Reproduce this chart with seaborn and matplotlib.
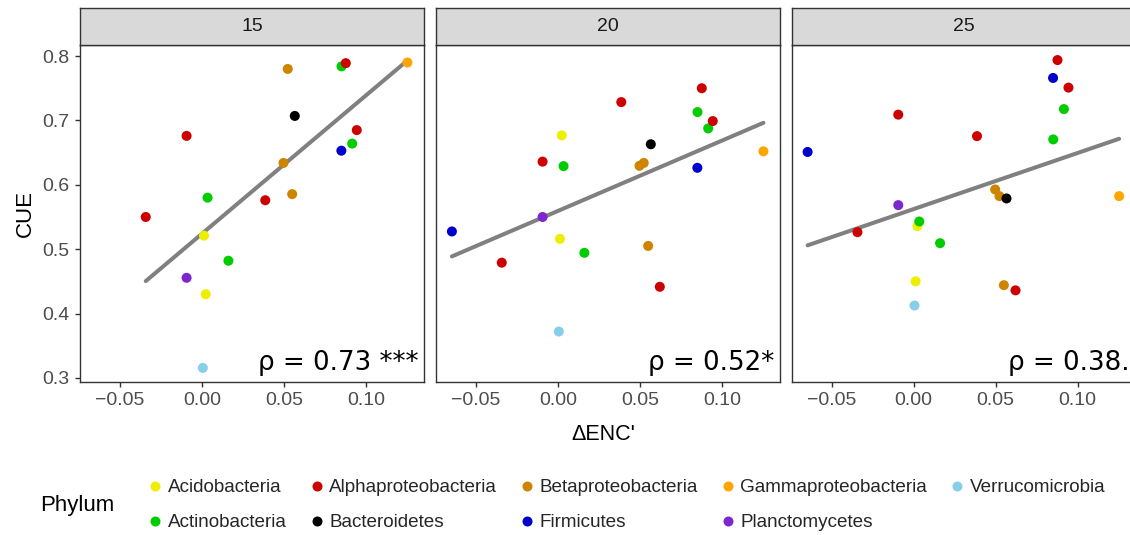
import numpy as np
import pandas as pd
import matplotlib
matplotlib.use("Agg")
import matplotlib.pyplot as plt
from matplotlib.lines import Line2D
import seaborn as sns

# ---------------- data ----------------
temps = ["15", "20", "25"]
phylum = ["Firmicutes", "Alphaproteobacteria", "Alphaproteobacteria", "Planctomycetes",
          "Verrucomicrobia", "Acidobacteria", "Acidobacteria", "Actinobacteria",
          "Actinobacteria", "Alphaproteobacteria", "Betaproteobacteria", "Betaproteobacteria",
          "Betaproteobacteria", "Bacteroidetes", "Alphaproteobacteria", "Firmicutes",
          "Actinobacteria", "Alphaproteobacteria", "Actinobacteria", "Alphaproteobacteria",
          "Gammaproteobacteria"]
d_enc = [-0.0647, -0.0343, -0.0094, -0.0094, 0.0005, 0.0012, 0.0023, 0.0034, 0.0161,
         0.0386, 0.0497, 0.0523, 0.0550, 0.0566, 0.0621, 0.0850, 0.0851, 0.0877,
         0.0916, 0.0944, 0.1253]
cue_15 = [np.nan, 0.550, 0.676, 0.4555, 0.3155, 0.521, 0.430, 0.580, 0.482, 0.576,
          0.634, 0.780, 0.5855, 0.707, np.nan, 0.653, 0.784, 0.789, 0.664, 0.685, 0.790]
cue_20 = [0.5275, 0.479, 0.636, 0.550, 0.372, 0.516, 0.6767, 0.629, 0.4943, 0.7285,
          0.6295, 0.634, 0.505, 0.663, 0.4415, 0.6264, 0.713, 0.750, 0.6876, 0.699, 0.652]
cue_25 = [0.651, 0.5264, 0.709, 0.5684, 0.4124, 0.450, 0.5358, 0.543, 0.5093, 0.6756,
          0.5927, 0.5824, 0.444, 0.5788, 0.436, 0.766, 0.6705, 0.7938, 0.7176, 0.751, 0.5824]
rho_labels = ["ρ = 0.73 ***", "ρ = 0.52*", "ρ = 0.38."]

phyla_order = ["Acidobacteria", "Actinobacteria", "Alphaproteobacteria", "Bacteroidetes",
               "Betaproteobacteria", "Firmicutes", "Gammaproteobacteria", "Planctomycetes",
               "Verrucomicrobia"]
phyla_colors = ["#EEEE00", "#00CD00", "#CD0000", "#000000", "#CD8500", "#0000CD",
                "#FFA500", "#7D26CD", "#87CEEB"]
x_ticks = [-0.05, 0.00, 0.05, 0.10]
x_ticklabels = ["\u22120.05", "0.00", "0.05", "0.10"]
y_ticks = [0.3, 0.4, 0.5, 0.6, 0.7, 0.8]

frames = []
for t, cue in zip(temps, [cue_15, cue_20, cue_25]):
    frames.append(pd.DataFrame({"temp": t, "dENC": d_enc, "CUE": cue, "Phylum": phylum}))
df = pd.concat(frames, ignore_index=True).dropna()
palette = dict(zip(phyla_order, phyla_colors))

# ---------------- figure ----------------
sns.set_style("white")
plt.rcParams["font.family"] = ["Liberation Sans", "DejaVu Sans"]

W, H = 1130, 535
fig = plt.figure(figsize=(W / 100, H / 100), dpi=100)
fig.patch.set_facecolor("white")

lefts = [80, 436, 791.7]
pw = 344
p_top, p_bot = 45, 382
s_top = 8
edge = "#333333"

for i, t in enumerate(temps):
    l = lefts[i]
    ax = fig.add_axes([l / W, (H - p_bot) / H, pw / W, (p_bot - p_top) / H])
    sub = df[df["temp"] == t]
    sns.regplot(data=sub, x="dENC", y="CUE", ax=ax, scatter=False, ci=None,
                color="#808080", line_kws={"linewidth": 2.9, "zorder": 2})
    sns.scatterplot(data=sub, x="dENC", y="CUE", hue="Phylum", palette=palette,
                    hue_order=phyla_order, ax=ax, s=52, linewidth=0, legend=False,
                    zorder=3)
    ax.set_xlim(-0.0744, 0.1354)
    ax.set_ylim(0.2936, 0.8172)
    ax.set_xticks(x_ticks)
    ax.set_xticklabels(x_ticklabels)
    ax.set_yticks(y_ticks)
    ax.set_xlabel("")
    ax.set_ylabel("")
    ax.tick_params(axis="both", which="both", length=3.3, width=1.0, color=edge,
                   labelcolor="#4D4D4D", labelsize=14, pad=4, direction="out",
                   bottom=True, left=(i == 0), labelleft=(i == 0))
    for sp in ax.spines.values():
        sp.set_color(edge)
        sp.set_linewidth(1.0)
        sp.set_visible(True)
    ax.grid(False)
    ax.text(1 - 6 / pw, 12 / (p_bot - p_top), rho_labels[i], transform=ax.transAxes,
            ha="right", va="baseline", fontsize=18.8, family="DejaVu Sans", color="black",
            zorder=5)

    sax = fig.add_axes([l / W, (H - p_top) / H, pw / W, (p_top - s_top) / H])
    sax.set_facecolor("#D9D9D9")
    sax.set_xticks([])
    sax.set_yticks([])
    for sp in sax.spines.values():
        sp.set_color(edge)
        sp.set_linewidth(1.0)
    sax.text(0.5, 0.5, t, transform=sax.transAxes, ha="center", va="center",
             fontsize=14, color="#1A1A1A")

fig.text(25 / W, 1 - 213.5 / H, "CUE", rotation=90, ha="center", va="center",
         fontsize=16, color="black")
fig.text(603 / W, 1 - 434 / H, "\u0394ENC'", ha="center", va="center",
         fontsize=15.5, color="black")
fig.text(40 / W, 1 - 505 / H, "Phylum", ha="left", va="center", fontsize=16,
         color="black")

handles = [Line2D([0], [0], marker="o", linestyle="", markersize=7.2,
                  markerfacecolor=c, markeredgewidth=0, color=c) for c in phyla_colors]
fig.legend(handles, phyla_order, ncol=5, loc="upper left",
           bbox_to_anchor=(146 / W, 1 - 479 / H), frameon=False, fontsize=13.6,
           borderpad=0, borderaxespad=0, handlelength=1.0, handletextpad=0.15,
           columnspacing=1.1, labelspacing=0.95)

fig.savefig("out.png", dpi=100, facecolor="white")
